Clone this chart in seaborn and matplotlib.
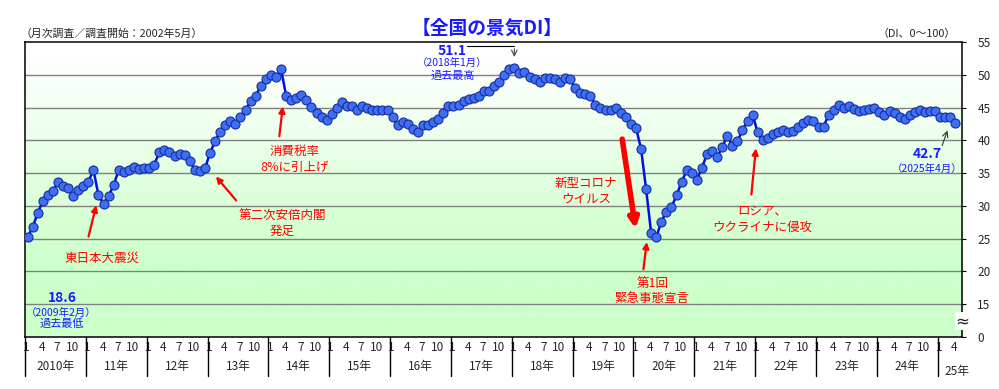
import numpy as np
import pandas as pd
import matplotlib
matplotlib.use("Agg")
import matplotlib.pyplot as plt
import matplotlib.transforms as mtransforms
import seaborn as sns

# monthly DI, Jan 2010 .. Apr 2025
di_2010 = [25.2, 26.7, 28.9, 30.7, 31.7, 32.3, 33.6, 33.1, 32.7, 31.5, 32.4, 33.0]
di_2011 = [33.7, 35.5, 31.6, 30.3, 31.5, 33.2, 35.5, 35.2, 35.5, 36.0, 35.6, 35.7]
di_2012 = [35.8, 36.3, 38.2, 38.5, 38.2, 37.6, 37.9, 37.7, 36.8, 35.5, 35.3, 35.7]
di_2013 = [38.1, 39.9, 41.3, 42.3, 43.0, 42.5, 43.6, 44.6, 46.0, 46.8, 48.3, 49.4]
di_2014 = [49.9, 49.6, 50.9, 46.8, 46.2, 46.4, 46.9, 46.1, 45.1, 44.2, 43.5, 43.1]
di_2015 = [44.0, 45.0, 45.8, 45.3, 45.3, 44.6, 45.3, 45.0, 44.7, 44.7, 44.7, 44.7]
di_2016 = [43.6, 42.3, 42.8, 42.5, 41.8, 41.3, 42.4, 42.4, 42.8, 43.2, 44.1, 45.3]
di_2017 = [45.2, 45.4, 46.0, 46.3, 46.4, 46.7, 47.5, 47.6, 48.3, 48.9, 49.9, 50.9]
di_2018 = [51.1, 50.3, 50.4, 49.7, 49.3, 48.9, 49.5, 49.5, 49.4, 48.9, 49.5, 49.3]
di_2019 = [48.0, 47.2, 47.0, 46.8, 45.4, 45.0, 44.6, 44.7, 44.9, 44.1, 43.6, 42.5]
di_2020 = [41.9, 38.7, 32.5, 25.8, 25.2, 27.6, 29.1, 29.8, 31.6, 33.7, 35.4, 35.0]
di_2021 = [34.0, 35.8, 37.9, 38.3, 37.4, 39.0, 40.7, 39.2, 39.9, 41.5, 43.0, 43.9]
di_2022 = [41.2, 40.0, 40.4, 41.0, 41.3, 41.5, 41.2, 41.4, 42.0, 42.6, 43.1, 43.0]
di_2023 = [42.1, 42.1, 43.9, 44.7, 45.4, 44.9, 45.2, 44.8, 44.4, 44.7, 44.8, 44.9]
di_2024 = [44.3, 43.9, 44.4, 44.2, 43.5, 43.3, 43.9, 44.3, 44.6, 44.3, 44.5, 44.5]
di_2025 = [43.6, 43.5, 43.5, 42.7]

years = list(range(2010, 2026))
year_labels = ["2010年", "11年", "12年", "13年", "14年", "15年", "16年", "17年",
               "18年", "19年", "20年", "21年", "22年", "23年", "24年", "25年"]
month_labels = ["1", "4", "7", "10"]
ytick_vals = [10, 15, 20, 25, 30, 35, 40, 45, 50, 55]
ytick_labels = ["0", "15", "20", "25", "30", "35", "40", "45", "50", "55"]

di = (di_2010 + di_2011 + di_2012 + di_2013 + di_2014 + di_2015 + di_2016 + di_2017
      + di_2018 + di_2019 + di_2020 + di_2021 + di_2022 + di_2023 + di_2024 + di_2025)
df = pd.DataFrame({"m": np.arange(len(di)), "di": di})

sns.set_style("white")
plt.rcParams["font.family"] = ["Noto Sans CJK JP", "DejaVu Sans"]

fig = plt.figure(figsize=(9.99, 3.89), dpi=100)
ax = fig.add_axes([0.025, 0.134, 0.938, 0.758])
x0, x1 = -0.5, 184.3
y0, y1 = 10, 55

# background gradient white -> light green
t = np.clip((np.linspace(0, 1, 300) - 0.05) / 0.7, 0, 1)[:, None]
top = np.array([1.0, 1.0, 1.0])
bot = np.array([0.80, 1.0, 0.79])
grad = top + (bot - top) * t[..., None]
ax.imshow(grad, extent=[x0, x1, y0, y1], aspect="auto", origin="upper", zorder=0)

for v in range(15, 55, 5):
    ax.axhline(v, color="#808080", lw=1, zorder=1)

sns.lineplot(data=df, x="m", y="di", ax=ax, color="#0010e0", lw=1.8, marker="o",
             markersize=6.5, markerfacecolor="#3d6ff2", markeredgecolor="#1a2aa0",
             markeredgewidth=0.8, zorder=3)

ax.set_xlim(x0, x1)
ax.set_ylim(y0, y1)
ax.set_xlabel("")
ax.set_ylabel("")
for s in ax.spines.values():
    s.set_color("black")
    s.set_linewidth(1.1)

# y axis on the right
ax.yaxis.tick_right()
ax.set_yticks(ytick_vals)
ax.set_yticklabels(ytick_labels)
ax.tick_params(axis="y", length=3, pad=8, labelsize=8.5, color="black")

# month ticks
mt, ml = [], []
for k in range(len(years)):
    for j, lab in enumerate(month_labels):
        pos = 12 * k + 3 * j - 0.2
        if pos < len(di):
            mt.append(pos)
            ml.append(lab)
ax.set_xticks(mt)
ax.set_xticklabels(ml)
ax.tick_params(axis="x", length=0, pad=3, labelsize=8.5)

# year separators and labels below
trans = mtransforms.blended_transform_factory(ax.transData, ax.transAxes)
for k, yr in enumerate(years):
    ax.plot([12 * k - 0.5] * 2, [0, -0.133], transform=trans, color="black",
            lw=1, clip_on=False)
    if yr < 2025:
        ax.text(12 * k + 5.5, -0.102, year_labels[k], transform=trans, ha="center",
                va="center", fontsize=8.5)
ax.text(183.3, -0.118, year_labels[-1], transform=trans, ha="center", va="center",
        fontsize=8.5)

# axis break mark
ax.text(x1, 12.4, "≈", ha="center", va="center", fontsize=12, clip_on=False,
        family="DejaVu Sans", bbox=dict(facecolor="white", edgecolor="none", pad=0.1),
        zorder=5)

# titles
fig.text(0.488, 0.928, "【全国の景気DI】", ha="center", va="center", fontsize=13.5,
         fontweight="bold", color="#1a1aff")
fig.text(0.021, 0.912, "（月次調査／調査開始：2002年5月）", ha="left", va="center",
         fontsize=7.8)
fig.text(0.957, 0.912, "（DI、0～100）", ha="right", va="center", fontsize=7.8)

red = "#ff0000"
blue = "#1a1aff"
arr = dict(arrowstyle="-|>", color=red, lw=1.6, mutation_scale=9)

ax.text(14.7, 22.0, "東日本大震災", color=red, fontsize=9, ha="center", va="center")
ax.annotate("", xy=(13.7, 30.5), xytext=(11.9, 24.9), arrowprops=arr)

ax.text(50.2, 27.3, "第二次安倍内閣\n発足", color=red, fontsize=9, ha="center",
        va="center", linespacing=1.25)
ax.annotate("", xy=(36.8, 34.8), xytext=(41.5, 30.5), arrowprops=arr)

ax.text(52.6, 37.1, "消費税率\n8%に引上げ", color=red, fontsize=9, ha="center",
        va="center", linespacing=1.25)
ax.annotate("", xy=(50.4, 45.6), xytext=(49.6, 40.2), arrowprops=arr)

ax.text(110.2, 32.2, "新型コロナ\nウイルス", color=red, fontsize=9, ha="center",
        va="center", linespacing=1.25)
ax.annotate("", xy=(120.0, 26.1), xytext=(117.2, 40.6),
            arrowprops=dict(arrowstyle="-|>", color=red, lw=4, mutation_scale=14))

ax.text(123.2, 17.0, "第1回\n緊急事態宣言", color=red, fontsize=9, ha="center",
        va="center", linespacing=1.25)
ax.annotate("", xy=(122.2, 24.9), xytext=(121.4, 19.9), arrowprops=arr)

ax.text(144.9, 27.9, "ロシア、\nウクライナに侵攻", color=red, fontsize=9, ha="center",
        va="center", linespacing=1.25)
ax.annotate("", xy=(143.7, 39.2), xytext=(142.7, 31.3), arrowprops=arr)

# high / low / latest
ax.text(83.7, 53.7, "51.1", color=blue, fontsize=10, fontweight="bold", ha="center",
        va="center")
ax.plot([86.7, 96.0], [54.35, 54.35], color="black", lw=0.8)
ax.annotate("", xy=(96.0, 52.3), xytext=(96.0, 54.4),
            arrowprops=dict(arrowstyle="->", color="#444444", lw=0.8))
ax.text(83.7, 51.75, "（2018年1月）", color=blue, fontsize=7.5, ha="center", va="center")
ax.text(83.9, 49.9, "過去最高", color=blue, fontsize=8, ha="center", va="center")

ax.text(177.4, 37.9, "42.7", color=blue, fontsize=10, fontweight="bold", ha="center",
        va="center")
ax.text(177.4, 35.7, "（2025年4月）", color=blue, fontsize=7.5, ha="center", va="center")
ax.annotate("", xy=(181.6, 41.9), xytext=(180.2, 38.8),
            arrowprops=dict(arrowstyle="->", color="#333333", lw=0.8))

ax.text(6.8, 15.9, "18.6", color=blue, fontsize=10, fontweight="bold", ha="center",
        va="center")
ax.text(6.6, 13.7, "（2009年2月）", color=blue, fontsize=7.5, ha="center", va="center")
ax.text(6.8, 12.1, "過去最低", color=blue, fontsize=8, ha="center", va="center")

fig.savefig("out.png", dpi=100)
